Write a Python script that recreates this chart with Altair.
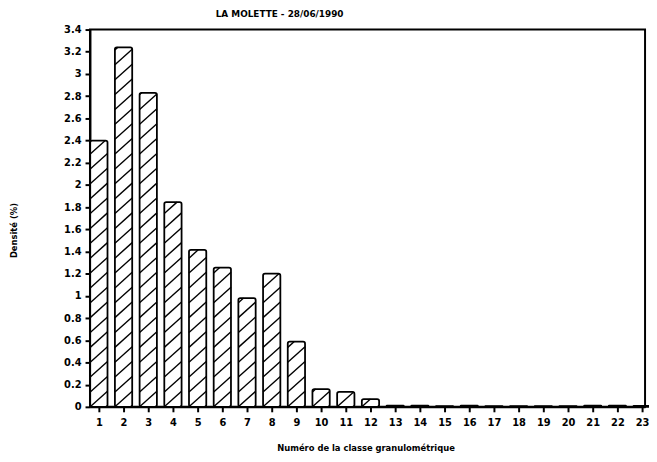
import altair as alt
import pandas as pd

# ---- data ----
classes = list(range(1, 24))
density = [2.40, 3.24, 2.83, 1.845, 1.415, 1.255, 0.98, 1.20, 0.587, 0.16, 0.134, 0.07,
           0.01, 0.01, 0.006, 0.01, 0.006, 0.006, 0.006, 0.006, 0.01, 0.01, 0.008]
y_ticks = [round(0.2 * i, 1) for i in range(18)]
title_text = "LA MOLETTE - 28/06/1990"
x_title = "Numéro de la classe granulométrique"
y_title = "Densité (%)"

HALF = 0.35       # half bar width in class units
SPACING = 0.134   # hatch vertical spacing (density units)
SLOPE = 0.20      # hatch rise per class unit

bars = pd.DataFrame({
    "cls": classes,
    "x0": [c - HALF for c in classes],
    "x1": [c + HALF for c in classes],
    "v": density,
})

# hatch segments derived from the bars
segs = []
w = 2 * HALF
for c, v in zip(classes, density):
    xl, xr = c - HALF, c + HALF
    k = -int((SLOPE * w) / SPACING) - 1
    while k * SPACING <= v:
        c0 = k * SPACING
        ys, ye = c0, c0 + SLOPE * w
        xs, xe = xl, xr
        if ys < 0:
            xs = xl + (-c0) / SLOPE
            ys = 0.0
        if ye > v:
            xe = xl + (v - c0) / SLOPE
            ye = v
        if xe - xs > 0.02 and ye > ys:
            segs.append({"xs": xs, "xe": xe, "ys": ys, "ye": ye})
        k += 1
hatch = pd.DataFrame(segs)

xscale = alt.Scale(domain=[0.64, 23.12], nice=False, zero=False)
yscale = alt.Scale(domain=[0, 3.4], nice=False)

xaxis = alt.Axis(values=classes, format="d", title=x_title, grid=False,
                 labelFontSize=10, labelFontWeight="bold", labelPadding=6,
                 tickSize=5, tickWidth=2, domainWidth=2,
                 titleFontSize=8.5, titleFontWeight="bold",
                 titleX=279, titleY=41, titleBaseline="middle")
yaxis = alt.Axis(values=y_ticks, format="~g", title=y_title, grid=False,
                 labelFontSize=10, labelFontWeight="bold", labelPadding=4,
                 tickSize=5, tickWidth=2, domainWidth=2,
                 titleFontSize=8.5, titleFontWeight="bold",
                 titleX=-77, titleY=203, titleAngle=-90,
                 titleAlign="center", titleBaseline="middle")

rects = alt.Chart(bars).mark_rect(fill="white", stroke="black", strokeWidth=1.8,
                                  cornerRadius=2).encode(
    x=alt.X("x0:Q", scale=xscale, axis=xaxis),
    x2="x1:Q",
    y=alt.Y("v:Q", scale=yscale, axis=yaxis),
    y2=alt.datum(0),
)

lines = alt.Chart(hatch).mark_rule(color="black", strokeWidth=1.4).encode(
    x=alt.X("xs:Q", scale=xscale, axis=xaxis),
    x2="xe:Q",
    y=alt.Y("ys:Q", scale=yscale, axis=yaxis),
    y2="ye:Q",
)

chart = alt.layer(rects, lines).properties(
    width=562, height=382,
    padding={"left": 83, "top": 19, "right": 4, "bottom": 52},
    autosize="none",
    background="white",
    title=alt.TitleParams(title_text, fontSize=9, fontWeight="bold",
                          font="DejaVu Sans", dx=-89, offset=6),
).configure_view(stroke="black", strokeWidth=2).configure_axis(
    labelFont="DejaVu Sans", titleFont="DejaVu Sans",
    domainColor="black", tickColor="black", labelColor="black", titleColor="black",
)

chart.save("out.html", embed_options={"renderer": "svg", "actions": False})
